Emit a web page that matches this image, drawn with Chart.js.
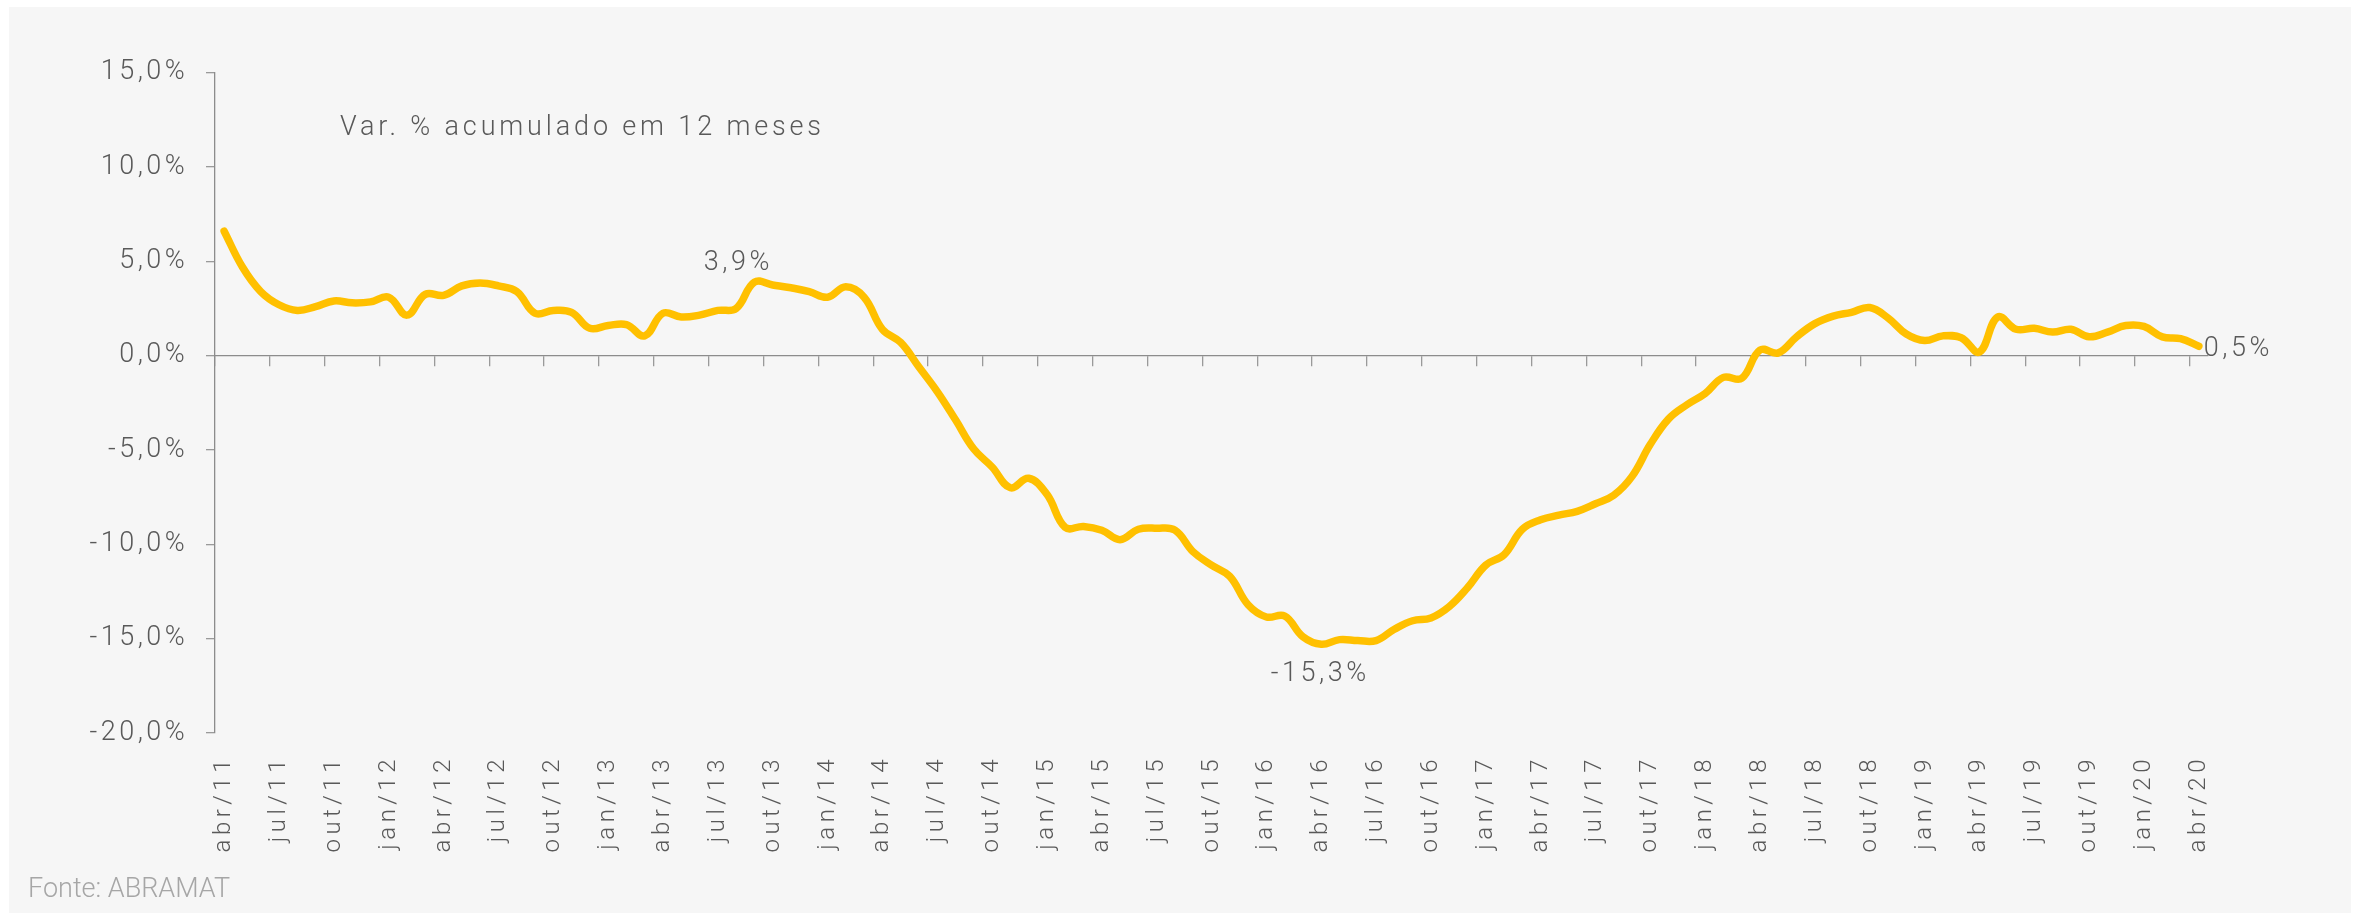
<!DOCTYPE html>
<html lang="pt-BR">
<head>
<meta charset="utf-8">
<title>Var. % acumulado em 12 meses</title>
<script src="https://cdn.jsdelivr.net/npm/chart.js@4/dist/chart.umd.min.js"></script>
<style>
  html, body { margin: 0; padding: 0; background: #ffffff; }
  #grafico { display: block; }
</style>
</head>
<body>
<canvas id="grafico" width="2357" height="913"></canvas>
<script>
// Meses (abr/11 a abr/20)
const meses = ['jan', 'fev', 'mar', 'abr', 'mai', 'jun', 'jul', 'ago', 'set', 'out', 'nov', 'dez'];
const rotulos = [];
for (let k = 0; k < 109; k++) {
  const m = (3 + k) % 12;
  const ano = 11 + Math.floor((3 + k) / 12);
  rotulos.push(meses[m] + '/' + ano);
}

// Var. % acumulado em 12 meses
const variacao = [
  6.6, 4.7, 3.4, 2.7, 2.4, 2.6, 2.9, 2.8, 2.85, 3.1,
  2.15, 3.25, 3.2, 3.7, 3.85, 3.7, 3.4, 2.25, 2.4, 2.3,
  1.45, 1.6, 1.65, 1.05, 2.25, 2.05, 2.15, 2.4, 2.5, 3.9,
  3.75, 3.6, 3.4, 3.1, 3.65, 3.1, 1.4, 0.7, -0.6, -1.9,
  -3.4, -4.95, -5.9, -7.0, -6.5, -7.35, -9.1, -9.05, -9.25, -9.75,
  -9.2, -9.15, -9.25, -10.4, -11.1, -11.7, -13.2, -13.85, -13.8, -14.9,
  -15.3, -15.05, -15.1, -15.1, -14.5, -14.05, -13.9, -13.3, -12.3, -11.1,
  -10.55, -9.2, -8.7, -8.45, -8.25, -7.85, -7.4, -6.4, -4.7, -3.35,
  -2.6, -2.0, -1.15, -1.2, 0.3, 0.15, 1.0, 1.7, 2.1, 2.3,
  2.55, 2.0, 1.15, 0.8, 1.05, 0.95, 0.2, 2.05, 1.4, 1.45,
  1.25, 1.4, 1.0, 1.25, 1.6, 1.55, 1.0, 0.9, 0.5
];

// Pontos com rótulo de dados
const destaques = [29, 60, 108];

const formatar = (v) => v.toFixed(1).replace('.', ',') + '%';
const fonte = (tam) => ({ family: 'Roboto', size: tam, weight: '300' });
const cinzaTexto = '#595959';
const cinzaEixo = '#8c8c8c';

// fundo cinza claro
const fundo = {
  id: 'fundo',
  beforeDraw(chart) {
    const ctx = chart.ctx;
    ctx.save();
    ctx.fillStyle = '#f6f6f6';
    ctx.fillRect(9, 7, 2342, 906);
    ctx.restore();
  }
};

// espaçamento entre letras (como no original)
const espacamento = {
  id: 'espacamento',
  beforeDraw(chart) {
    chart.ctx.letterSpacing = '3.5px';
    const x = chart.scales.x;
    if (x && !x._espacado) {
      const original = x.drawLabels.bind(x);
      x.drawLabels = (area) => {
        const ctx = chart.ctx;
        const antes = ctx.letterSpacing;
        ctx.letterSpacing = '4.5px';
        original(area);
        ctx.letterSpacing = antes;
      };
      x._espacado = true;
    }
  },
  afterDraw(chart) {
    chart.ctx.letterSpacing = '0px';
  }
};

// textos: título interno, rótulos de dados e fonte
const textos = {
  id: 'textos',
  afterDatasetsDraw(chart) {
    const ctx = chart.ctx;
    const pts = chart.getDatasetMeta(0).data;
    ctx.save();
    ctx.fillStyle = cinzaTexto;
    ctx.font = '300 27px Roboto';
    ctx.textBaseline = 'alphabetic';

    ctx.letterSpacing = '3.85px';
    ctx.textAlign = 'left';
    ctx.fillText('Var. % acumulado em 12 meses', 340, 135);

    ctx.letterSpacing = '3.5px';
    const [iMax, iMin, iFim] = destaques;
    ctx.textAlign = 'center';
    ctx.fillText(formatar(variacao[iMax]), pts[iMax].x - 16, pts[iMax].y - 12);
    ctx.fillText(formatar(variacao[iMin]), pts[iMin].x - 1, pts[iMin].y + 37);
    ctx.textAlign = 'left';
    ctx.fillText(formatar(variacao[iFim]), pts[iFim].x + 5, pts[iFim].y + 10);

    ctx.letterSpacing = '0px';
    ctx.fillStyle = '#a6a6a6';
    ctx.font = '300 27px Roboto';
    ctx.fillText('Fonte: ABRAMAT', 28, 897);
    ctx.restore();
  }
};

new Chart(document.getElementById('grafico'), {
  type: 'line',
  data: {
    labels: rotulos,
    datasets: [{
      data: variacao,
      borderColor: '#ffc000',
      borderWidth: 7.5,
      borderCapStyle: 'round',
      borderJoinStyle: 'round',
      pointRadius: 0,
      tension: 0.4,
      fill: false,
    }],
  },
  options: {
    responsive: false,
    devicePixelRatio: 1,
    animation: false,
    layout: { padding: { left: 0, right: 149, top: 72.7, bottom: 0 } },
    plugins: {
      legend: { display: false },
      tooltip: { enabled: false },
    },
    scales: {
      x: {
        type: 'category',
        offset: true,
        border: { display: false },
        grid: { display: false, drawTicks: false, tickLength: 0 },
        ticks: {
          autoSkip: false,
          maxRotation: 90,
          minRotation: 90,
          padding: 22,
          color: cinzaTexto,
          font: fonte(24),
          callback(v, i) { return i % 3 === 0 ? rotulos[i] : null; },
        },
        afterFit(s) { s.height = 180; },
      },
      x2: {
        type: 'category',
        axis: 'x',
        position: { y: 0 },
        offset: true,
        border: { display: true, color: cinzaEixo, width: 1.3 },
        grid: {
          offset: true,
          drawOnChartArea: false,
          drawTicks: true,
          tickLength: 10,
          lineWidth: 1.3,
          tickColor: (c) => (c.index % 3 === 0 ? '#9a9a9a' : 'rgba(0,0,0,0)'),
        },
        ticks: { display: false },
      },
      y: {
        min: -20,
        max: 15,
        border: { display: true, color: cinzaEixo, width: 1.3 },
        grid: { drawOnChartArea: false, drawTicks: true, tickLength: 9, tickColor: '#9a9a9a', lineWidth: 1.3 },
        ticks: {
          stepSize: 5,
          padding: 17.7,
          color: cinzaTexto,
          font: fonte(27),
          callback: (v) => formatar(v),
        },
        afterFit(s) { s.width = 215; },
      },
    },
  },
  plugins: [fundo, espacamento, textos],
});
</script>
</body>
</html>
